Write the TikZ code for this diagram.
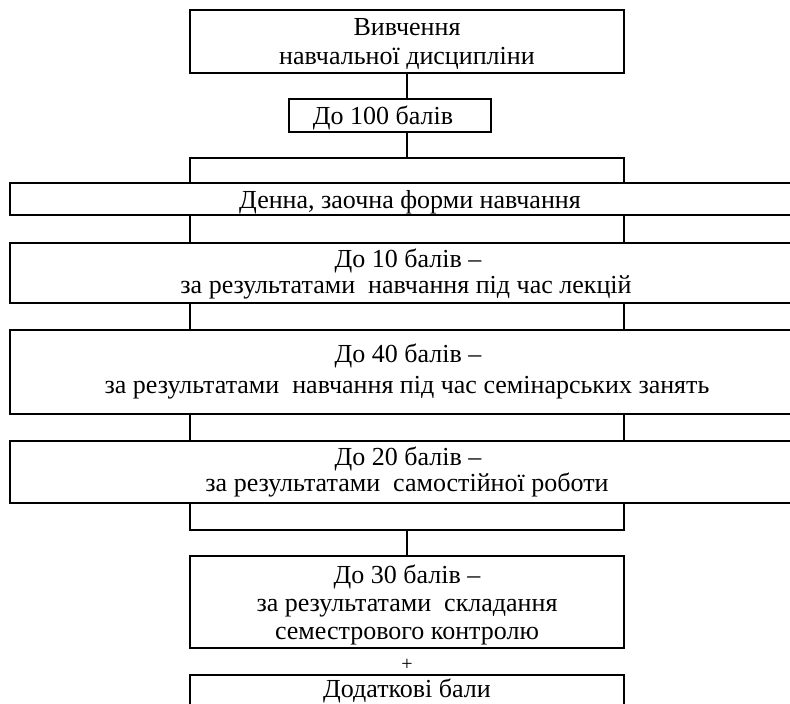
\documentclass[tikz,border=0pt]{standalone}
\usepackage{fontspec}
\setmainfont{Liberation Serif}
\newfontfamily\tnr{Liberation Serif}
\newcommand{\bigtxt}{\tnr\fontsize{26pt}{30pt}\selectfont}
\begin{document}
\begin{tikzpicture}[x=1pt,y=-1pt,
  box/.style={draw,line width=2pt,rectangle,inner sep=0pt,outer sep=0pt,anchor=north west},
  txt/.style={anchor=base,inner sep=0pt},
  link/.style={line width=2pt}]
\useasboundingbox (0,0) rectangle (790,704);
% boxes
\node[box,minimum width=434pt,minimum height=63pt] (A) at (190,10) {};
\node[box,minimum width=202pt,minimum height=33pt] (B) at (289,99) {};
\node[box,minimum width=800pt,minimum height=32pt] (C) at (10,183) {};
\node[box,minimum width=800pt,minimum height=60pt] (D) at (10,243) {};
\node[box,minimum width=800pt,minimum height=84pt] (E) at (10,330) {};
\node[box,minimum width=800pt,minimum height=62pt] (F) at (10,441) {};
\node[box,minimum width=434pt,minimum height=92pt] (G) at (190,556) {};
\node[box,minimum width=434pt,minimum height=50pt] (H) at (190,675) {};
% texts
\node[txt] (a1) at (407,35) {\bigtxt Вивчення};
\node[txt] (a2) at (407,64) {\bigtxt навчальної дисципліни};
\node[txt] (b1) at (383,124) {\bigtxt До 100 балів};
\node[txt] (c1) at (410,208) {\bigtxt Денна, заочна форми навчання};
\node[txt] (d1) at (408,267) {\bigtxt До 10 балів –};
\node[txt] (d2) at (406,293) {\bigtxt за результатами\ \ навчання під час лекцій};
\node[txt] (e1) at (408,362) {\bigtxt До 40 балів –};
\node[txt] (e2) at (407,393) {\bigtxt за результатами\ \ навчання під час семінарських занять};
\node[txt] (f1) at (408,465) {\bigtxt До 20 балів –};
\node[txt] (f2) at (407,491) {\bigtxt за результатами\ \ самостійної роботи};
\node[txt] (g1) at (407,583) {\bigtxt До 30 балів –};
\node[txt] (g2) at (407,611) {\bigtxt за результатами\ \ складання};
\node[txt] (g3) at (407,639) {\bigtxt семестрового контролю};
\node[txt] (plus) at (407,670) {\tnr\fontsize{20pt}{22pt}\selectfont +};
\node[txt] (h1) at (407,697) {\bigtxt Додаткові бали};
% bracket coordinates
\coordinate (tl) at (190,158);
\coordinate (tr) at (624,158);
\coordinate (bl) at (190,530);
\coordinate (br) at (624,530);
\coordinate (mid) at (407,0);
% connectors
\draw[link] (A.south -| mid) -- (B.north -| mid);
\draw[link] (B.south -| mid) -- (tl -| mid);
\draw[link] (C.north -| tl) -- (tl) -- (tr) -- (C.north -| tr);
\draw[link] (C.south -| tl) -- (D.north -| tl);
\draw[link] (C.south -| tr) -- (D.north -| tr);
\draw[link] (D.south -| tl) -- (E.north -| tl);
\draw[link] (D.south -| tr) -- (E.north -| tr);
\draw[link] (E.south -| tl) -- (F.north -| tl);
\draw[link] (E.south -| tr) -- (F.north -| tr);
\draw[link] (F.south -| bl) -- (bl) -- (br) -- (F.south -| br);
\draw[link] (bl -| mid) -- (G.north -| mid);
\end{tikzpicture}
\end{document}
